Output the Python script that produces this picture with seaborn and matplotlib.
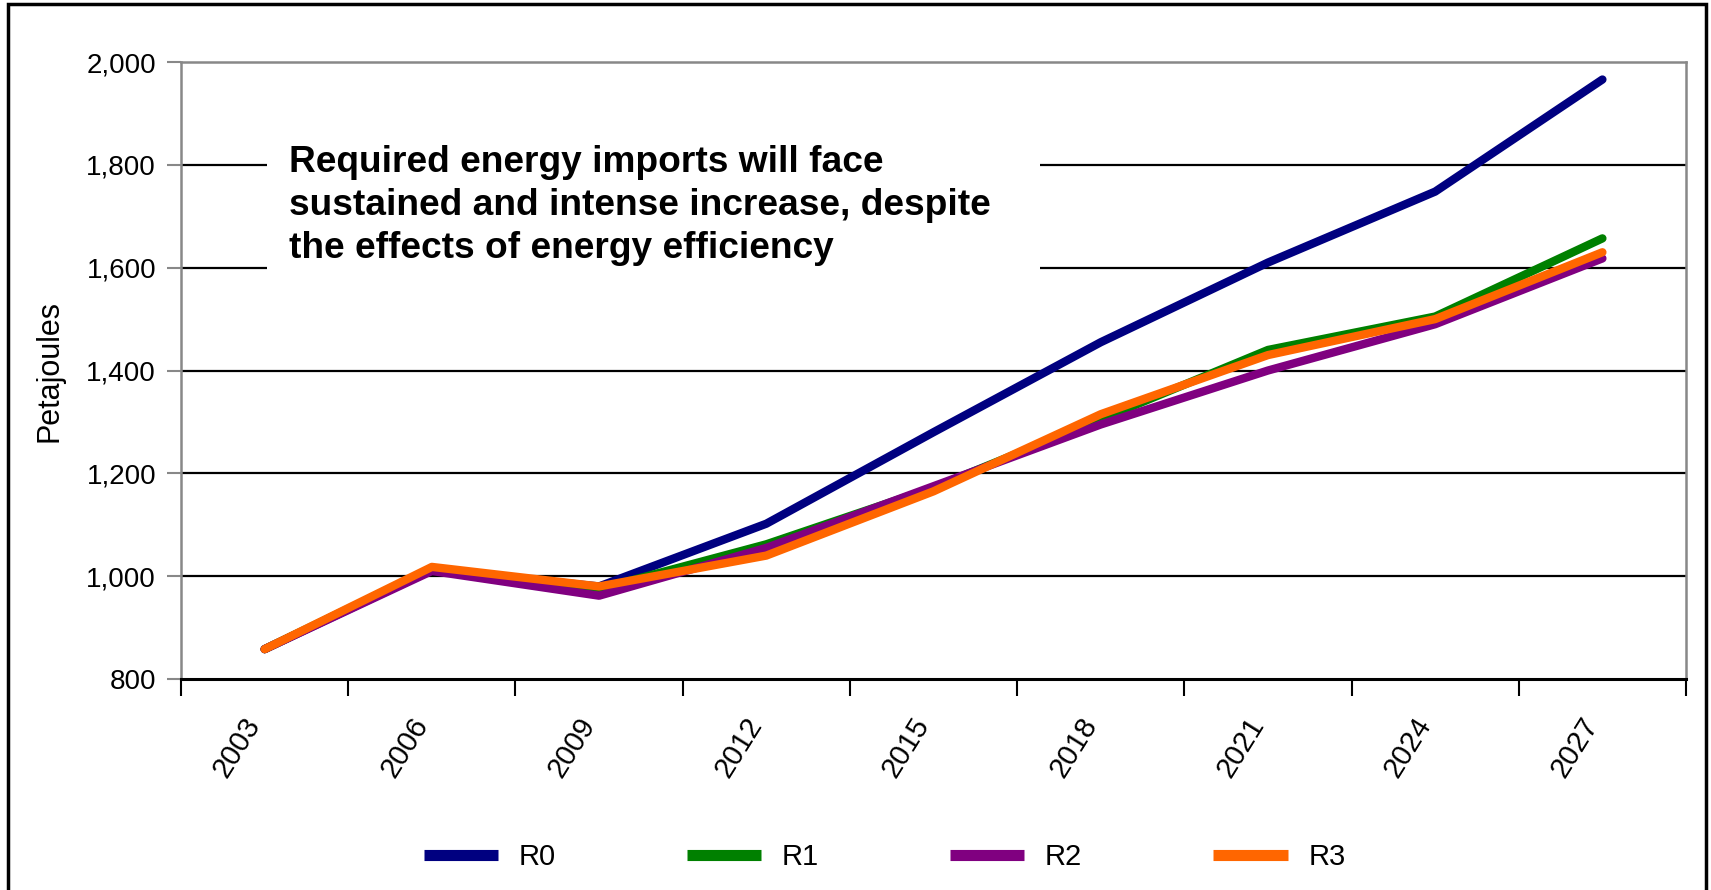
import numpy as np
import pandas as pd
import seaborn as sns
import matplotlib.pyplot as plt
import matplotlib.transforms as mtransforms
from matplotlib.patches import Rectangle
from matplotlib.ticker import FuncFormatter, FixedLocator

# Data (Petajoules of required energy imports)
years = ["2003", "2006", "2009", "2012", "2015", "2018", "2021", "2024", "2027"]
r0 = [858, 1012, 980, 1102, 1280, 1455, 1610, 1748, 1966]
r1 = [858, 1015, 975, 1062, 1172, 1305, 1440, 1505, 1657]
r2 = [858, 1010, 962, 1055, 1175, 1295, 1400, 1490, 1618]
r3 = [858, 1018, 980, 1040, 1165, 1315, 1430, 1500, 1630]
series_names = ["R0", "R1", "R2", "R3"]
colors = ["#000080", "#008000", "#800080", "#FF6600"]
note = ("Required energy imports will face\n"
        "sustained and intense increase, despite\n"
        "the effects of energy efficiency")

df = pd.DataFrame({"Year": years, "R0": r0, "R1": r1, "R2": r2, "R3": r3})
long = df.melt(id_vars="Year", var_name="Scenario", value_name="PJ")
long["x"] = long["Year"].map({y: i for i, y in enumerate(years)})

sns.set_theme(style="white")
plt.rcParams["font.family"] = ["Liberation Sans", "DejaVu Sans"]
plt.rcParams["text.color"] = "black"
plt.rcParams["axes.labelcolor"] = "black"

fig = plt.figure(figsize=(17.11, 8.90), dpi=100)
ax = fig.add_axes([0.1058, 0.2371, 0.8796, 0.6932])

sns.lineplot(data=long, x="x", y="PJ", hue="Scenario", hue_order=series_names,
             palette=colors, linewidth=6, ax=ax, legend=False, zorder=5)

# axis limits and ticks
ax.set_xlim(-0.5, len(years) - 0.5)
ax.set_ylim(800, 2000)
ax.set_yticks(np.arange(800, 2001, 200))
ax.yaxis.set_major_formatter(FuncFormatter(lambda v, p: f"{int(v):,}"))
ax.tick_params(axis="y", which="major", length=10, width=1.5, color="#888888",
               labelsize=20, pad=8, left=True, labelcolor="black")

ax.set_xticks(range(len(years)))
ax.set_xticklabels(years, rotation=58, ha="right", rotation_mode="anchor")
ax.tick_params(axis="x", which="major", length=0, labelsize=21, pad=24,
               labelcolor="black")
shift = mtransforms.ScaledTranslation(-0.22, 0, fig.dpi_scale_trans)
for lbl in ax.get_xticklabels():
    lbl.set_transform(lbl.get_transform() + shift)
ax.xaxis.set_minor_locator(FixedLocator(np.arange(-0.5, len(years), 1.0)))
ax.tick_params(axis="x", which="minor", length=12, width=1.5, color="black", bottom=True)

ax.set_ylabel("Petajoules", fontsize=22, labelpad=16)
ax.set_xlabel("")

# gridlines
for v in range(1000, 2000, 200):
    ax.axhline(v, color="black", linewidth=1.6, zorder=1)

for side in ["left", "top", "right"]:
    ax.spines[side].set_color("#888888")
    ax.spines[side].set_linewidth(1.8)
ax.spines["bottom"].set_color("black")
ax.spines["bottom"].set_linewidth(2.2)

# annotation box covering gridlines
ax.add_patch(Rectangle((0.0573, 0.62), 0.5134, 0.27, transform=ax.transAxes,
                       facecolor="white", edgecolor="none", zorder=2))
ax.text(0.0718, 0.768, note, transform=ax.transAxes, fontsize=26.7,
        fontweight="bold", va="center", ha="left", linespacing=1.3,
        color="black", zorder=3)

# legend below
handles = [plt.Line2D([], [], color=c, linewidth=8, solid_capstyle="butt")
           for c in colors]
fig.legend(handles, series_names, loc="center", bbox_to_anchor=(0.517, 0.037),
           ncol=4, frameon=False, fontsize=21, handlelength=2.55,
           columnspacing=4.5, handletextpad=0.7)

# outer frame
fig.add_artist(Rectangle((8 / 1711, -0.01), 1698 / 1711, 1 - 4 / 890 + 0.01,
                         transform=fig.transFigure, fill=False,
                         edgecolor="black", linewidth=2.5))

fig.savefig("out.png", dpi=100, facecolor="white")
